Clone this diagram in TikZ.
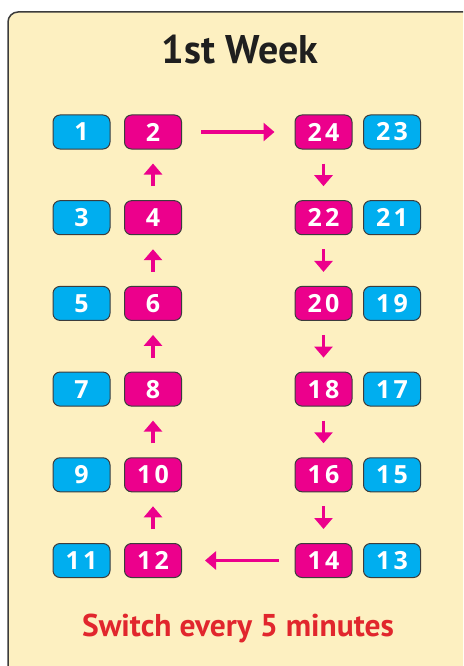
\documentclass[tikz,border=0pt]{standalone}
\usepackage{fontspec}
\setmainfont{PT Sans}
\newfontfamily\numfont[LetterSpace=12]{Open Sans}
\usepackage{tikz}
\usetikzlibrary{arrows.meta}

\definecolor{paper}{HTML}{FDF0C1}
\definecolor{cyanbox}{HTML}{00AEEF}
\definecolor{pinkbox}{HTML}{EC008C}
\definecolor{rimgray}{HTML}{3C3C3C}
\definecolor{notered}{HTML}{E1262D}

\begin{document}
\begin{tikzpicture}[x=1pt, y=-1pt,
  seat/.style={rectangle,rounded corners=7pt,draw=rimgray,line width=1pt,
    minimum width=57pt,minimum height=34pt,inner sep=0pt,
    text=white,font=\numfont\fontsize{25}{25}\bfseries},
  blue/.style={seat,fill=cyanbox},
  pink/.style={seat,fill=pinkbox},
  move/.style={-{Triangle[length=11pt,width=18pt]},draw=pinkbox,line width=3.6pt}]
  \useasboundingbox (0,0) rectangle (463,666);
  \begin{scope}
    \clip (0,0) rectangle (463,666);
    \draw[rimgray,fill=paper,line width=1.5pt,rounded corners=10pt] (8,12) rectangle (480,690);
  \end{scope}
  % Title
  \node[font=\fontsize{40}{40}\bfseries,text=black!88] (title) at (240,50) {1st Week};
  % Left column
  \node[blue] (n1) at (81.5,132) {1};
  \node[pink] (n2) at (153,132) {2};
  \node[blue] (n3) at (81.5,217.7) {3};
  \node[pink] (n4) at (153,217.7) {4};
  \node[blue] (n5) at (81.5,303.4) {5};
  \node[pink] (n6) at (153,303.4) {6};
  \node[blue] (n7) at (81.5,389.1) {7};
  \node[pink] (n8) at (153,389.1) {8};
  \node[blue] (n9) at (81.5,474.8) {9};
  \node[pink] (n10) at (153,474.8) {10};
  \node[blue] (n11) at (81.5,560.5) {11};
  \node[pink] (n12) at (153,560.5) {12};
  % Right column
  \node[pink] (n24) at (323.5,132) {24};
  \node[blue] (n23) at (392,132) {23};
  \node[pink] (n22) at (323.5,217.7) {22};
  \node[blue] (n21) at (392,217.7) {21};
  \node[pink] (n20) at (323.5,303.4) {20};
  \node[blue] (n19) at (392,303.4) {19};
  \node[pink] (n18) at (323.5,389.1) {18};
  \node[blue] (n17) at (392,389.1) {17};
  \node[pink] (n16) at (323.5,474.8) {16};
  \node[blue] (n15) at (392,474.8) {15};
  \node[pink] (n14) at (323.5,560.5) {14};
  \node[blue] (n13) at (392,560.5) {13};
  % Moves
  \draw[move,shorten <=14pt,shorten >=14pt] (n12) -- (n10);
  \draw[move,shorten <=14pt,shorten >=14pt] (n10) -- (n8);
  \draw[move,shorten <=14pt,shorten >=14pt] (n8) -- (n6);
  \draw[move,shorten <=14pt,shorten >=14pt] (n6) -- (n4);
  \draw[move,shorten <=14pt,shorten >=14pt] (n4) -- (n2);
  \draw[move,shorten <=19pt,shorten >=20pt] (n2) -- (n24);
  \draw[move,shorten <=14pt,shorten >=14pt] (n24) -- (n22);
  \draw[move,shorten <=14pt,shorten >=14pt] (n22) -- (n20);
  \draw[move,shorten <=14pt,shorten >=14pt] (n20) -- (n18);
  \draw[move,shorten <=14pt,shorten >=14pt] (n18) -- (n16);
  \draw[move,shorten <=14pt,shorten >=14pt] (n16) -- (n14);
  \draw[move,shorten <=16pt,shorten >=23pt] (n14) -- (n12);
  % Note
  \node[font=\fontsize{31.5}{31.5}\bfseries,text=notered] (note) at (238,628) {Switch every 5 minutes};
\end{tikzpicture}
\end{document}
